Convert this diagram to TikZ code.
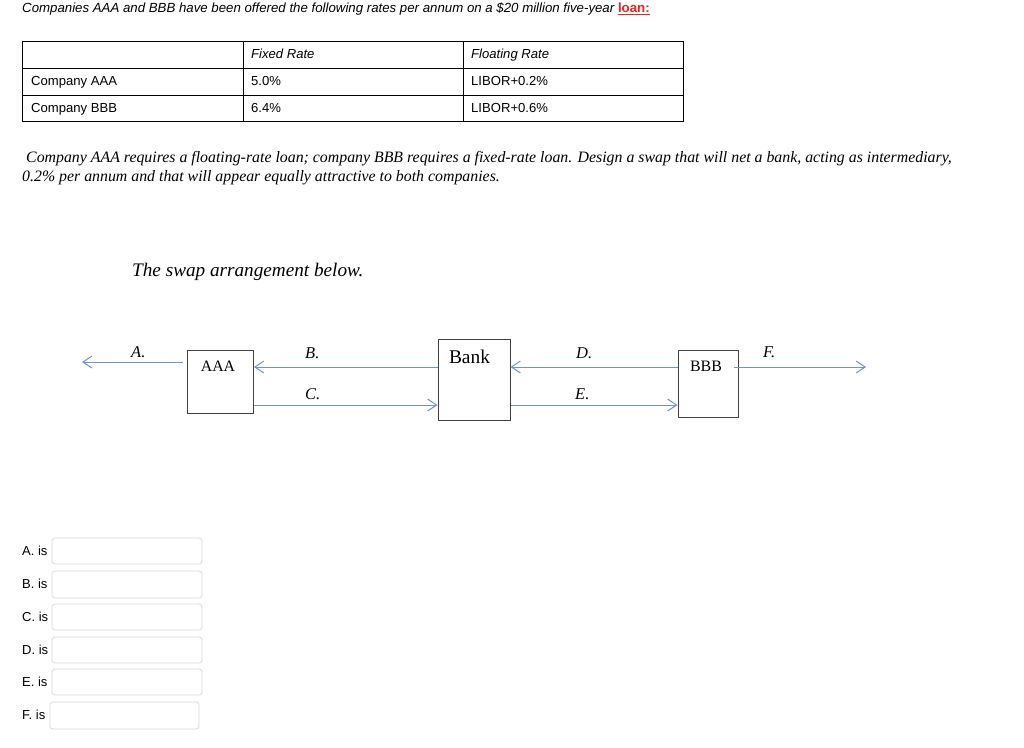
\documentclass[tikz,border=0pt]{standalone}
\usepackage{fontspec}
\setmainfont{Liberation Serif}
\setsansfont{Liberation Sans}
\usetikzlibrary{arrows.meta}
\definecolor{flowc}{RGB}{112,146,196}
\definecolor{loanred}{RGB}{230,40,30}
\definecolor{fieldc}{RGB}{218,218,218}
\tikzset{
  sanstxt/.style={font=\sffamily\fontsize{13.1}{15}\selectfont, anchor=base west, inner sep=0pt},
  sansit/.style={font=\sffamily\itshape\fontsize{13.1}{15}\selectfont, anchor=base west, inner sep=0pt},
  paratxt/.style={font=\itshape\fontsize{15.85}{18}\selectfont, anchor=base west, inner sep=0pt},
  lbl/.style={font=\itshape\fontsize{16.5}{18}\selectfont, anchor=base west, inner sep=0pt},
  boxtxt/.style={font=\fontsize{15.9}{18}\selectfont, anchor=base, inner sep=0pt},
  party/.style={draw=black!75, line width=1pt, inner sep=0pt},
  flow/.style={draw=flowc, line width=1pt, -{Straight Barb[length=9pt,width=12pt]}},
  field/.style={draw=fieldc, line width=0.8pt, rounded corners=3pt},
  anslbl/.style={font=\sffamily\fontsize{13}{15}\selectfont, anchor=base west, inner sep=0pt},
}
\begin{document}
\begin{tikzpicture}[x=1pt,y=-1pt]
\useasboundingbox (0,0) rectangle (1024,747);
\fill[white] (0,0) rectangle (1024,747);
% title
\node[sansit, font=\sffamily\itshape\fontsize{13.25}{15}\selectfont] (title) at (22,12.5) {Companies AAA and BBB have been offered the following rates per annum on a \$20 million five-year \textcolor{loanred}{\bfseries\upshape\underline{loan:}}};
% table
\draw[line width=1pt] (22,41) rectangle (683,121);
\draw[line width=0.8pt] (22,68) -- (683,68) (22,95) -- (683,95) (243,41) -- (243,121) (463,41) -- (463,121);
\node[sansit] (h1) at (251,58.5) {Fixed Rate};
\node[sansit] (h2) at (471,58.5) {Floating Rate};
\node[sanstxt] (r1) at (31,85.5) {Company AAA};
\node[sanstxt] (r1a) at (251,85.5) {5.0\%};
\node[sanstxt] (r1b) at (471,85.5) {LIBOR+0.2\%};
\node[sanstxt] (r2) at (31,112.5) {Company BBB};
\node[sanstxt] (r2a) at (251,112.5) {6.4\%};
\node[sanstxt] (r2b) at (471,112.5) {LIBOR+0.6\%};
% paragraph
\node[paratxt] (p1) at (26,162) {Company AAA requires a floating-rate loan; company BBB requires a fixed-rate loan. Design a swap that will net a bank, acting as intermediary,};
\node[paratxt] (p2) at (22,181) {0.2\% per annum and that will appear equally attractive to both companies.};
\node[font=\itshape\fontsize{19.2}{22}\selectfont, anchor=base west, inner sep=0pt] (sub) at (132,276) {The swap arrangement below.};
% boxes
\node[party, minimum width=66pt, minimum height=63pt] (aaa) at (220.5,381.5) {};
\node[party, minimum width=72pt, minimum height=81pt] (bank) at (474,379.5) {};
\node[party, minimum width=60pt, minimum height=67pt] (bbb) at (708,383.5) {};
\node[boxtxt] (aaat) at (218,371.5) {AAA};
\node[boxtxt, font=\fontsize{19.4}{22}\selectfont] (bankt) at (469.5,363.5) {Bank};
\node[boxtxt] (bbbt) at (706,371.5) {BBB};
% flow coordinates
\coordinate (ya) at (0,362);
\coordinate (yb) at (0,367);
\coordinate (yc) at (0,405);
\coordinate (aend) at (82,362);
\coordinate (fend) at (866,367);
\draw[flow] ([xshift=-4pt]aaa.west |- ya) -- (aend);
\draw[flow] (bank.west |- yb) -- (aaa.east |- yb);
\draw[flow] (aaa.east |- yc) -- (bank.west |- yc);
\draw[flow] (bbb.west |- yb) -- (bank.east |- yb);
\draw[flow] (bank.east |- yc) -- (bbb.west |- yc);
\draw[flow] ([xshift=-5pt]bbb.east |- yb) -- (fend);
\node[lbl] (la) at (131,357) {A.};
\node[lbl] (lb) at (305,358) {B.};
\node[lbl] (lc) at (305,399) {C.};
\node[lbl] (ld) at (576,358) {D.};
\node[lbl] (le) at (575,399) {E.};
\node[lbl] (lf) at (763,357) {F.};
% answer fields
\node[anslbl] (qa) at (22,555) {A. is};
\node[anslbl] (qb) at (22,588) {B. is};
\node[anslbl] (qc) at (22,621) {C. is};
\node[anslbl] (qd) at (22,654) {D. is};
\node[anslbl] (qe) at (22,686) {E. is};
\node[anslbl] (qf) at (22,719) {F. is};
\draw[field] (52,538) rectangle (202,564);
\draw[field] (52,571) rectangle (202,598);
\draw[field] (52,604) rectangle (202,630);
\draw[field] (52,637) rectangle (202,663);
\draw[field] (52,669) rectangle (202,695);
\draw[field] (50,702) rectangle (199,729);
\end{tikzpicture}
\end{document}
